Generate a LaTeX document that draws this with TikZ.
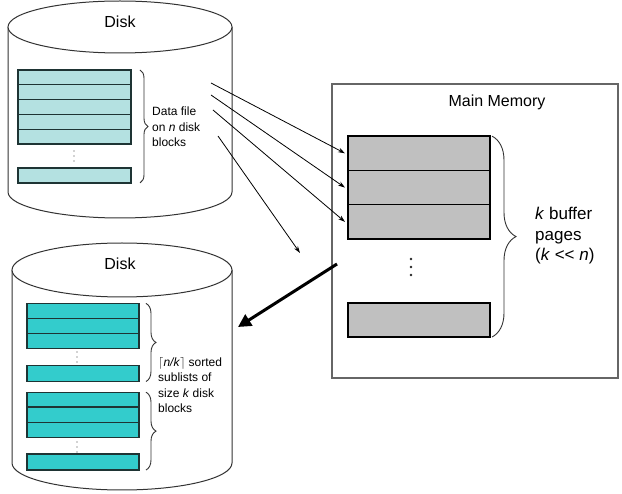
\documentclass[tikz,border=0pt]{standalone}
\usepackage{fontspec}
\setmainfont{Liberation Sans}
\usetikzlibrary{arrows.meta,decorations.pathreplacing}
\definecolor{pale}{HTML}{B4E1E1}
\definecolor{teal}{HTML}{33CCCC}
\definecolor{page}{HTML}{C0C0C0}
\definecolor{ink}{HTML}{1E3434}

\begin{document}
\begin{tikzpicture}[
  x=1pt,y=1pt,
  disk/.style={draw=black!80,line width=1pt,fill=white},
  block/.style={draw=ink,line width=1.3pt,minimum width=113pt,minimum height=14.8pt,
    inner sep=0pt,outer sep=0pt},
  pblock/.style={block,fill=pale},
  tblock/.style={block,fill=teal,minimum width=112pt},
  mblock/.style={block,draw=black,fill=page,minimum width=142pt,minimum height=34.3pt},
  brc/.style={draw=black!80,line width=.9pt,decorate,decoration={brace,amplitude=#1}},
  feed/.style={draw=black,line width=.8pt,-{Stealth[length=7pt,width=4.5pt]}},
  flush/.style={draw=black,line width=3pt,-{Triangle[length=13pt,width=13pt]}},
  title/.style={font=\fontsize{16}{19}\selectfont},
  note/.style={anchor=west,align=left,inner sep=0pt,font=\fontsize{12}{15.5}\selectfont},
  dot/.style={circle,fill=gray!70,inner sep=0pt,minimum size=1.6pt},
  bigdot/.style={dot,fill=black!85,minimum size=2.6pt}
]
\path[use as bounding box] (0,0) rectangle (622,-494);

% input disk
\path[disk] (8,-27) -- (8,-192) arc[start angle=180,end angle=360,x radius=112,y radius=26] -- (232,-27);
\draw[disk] (120,-27) ellipse[x radius=112,y radius=26];
\node[title] (disk1) at (120,-22) {Disk};
\foreach \i in {1,...,5}
  \node[pblock] (in\i) at (74.5,{-62.6-14.8*\i}) {};
\foreach \y in {151,156,161}
  \node[dot] at (74,-\y) {};
\node[pblock] (inlast) at (74.5,-175.5) {};
\draw[brc=8pt] ([xshift=9pt]in1.north east) -- ([xshift=9pt]inlast.south east);
\node[note] (innote) at (152,-127) {Data file\\on \textit{n} disk\\blocks};

% main memory
\node[draw=black!60,line width=1.2pt,minimum width=286pt,minimum height=294pt,inner sep=0pt]
  (mem) at (475,-231) {};
\node[title] (memtitle) at (497,-102) {Main Memory};
\foreach \i in {1,2,3}
  \node[mblock] (buf\i) at (419,{-119-34.3*\i}) {};
\foreach \y in {259,267,275}
  \node[bigdot] at (411,-\y) {};
\node[mblock,minimum height=34pt] (buflast) at (419,-320) {};
\draw[brc=24pt] ([xshift=2pt]buf1.north east) -- ([xshift=2pt]buflast.south east);
\node[note,font=\fontsize{17}{20.5}\selectfont] (bufnote) at (535,-236)
  {\textit{k} buffer\\pages\\(\textit{k} <{}< \textit{n})};

% reads into the buffer pages
\coordinate (r1) at (211,-83);
\coordinate (r2) at (211,-95);
\coordinate (r3) at (213,-110);
\coordinate (r4) at (218,-136);
\coordinate (r4end) at (300,-253);
\draw[feed] (r1) -- ([xshift=-3pt]buf1.west);
\draw[feed] (r2) -- ([xshift=-3pt]buf2.west);
\draw[feed] (r3) -- ([xshift=-3pt]buf3.west);
\draw[feed] (r4) -- (r4end);

% output disk
\path[disk] (12,-270) -- (12,-463) arc[start angle=180,end angle=360,x radius=110,y radius=27] -- (232,-270);
\draw[disk] (122,-270) ellipse[x radius=110,y radius=27];
\node[title] (disk2) at (120,-264) {Disk};
\foreach \i in {1,2,3}
  \node[tblock] (a\i) at (83,{-295.6-15.2*\i}) {};
\foreach \y in {352,357,362}
  \node[dot] at (77,-\y) {};
\node[tblock,minimum height=16pt] (alast) at (83,-373.5) {};
\foreach \i in {1,2,3}
  \node[tblock] (b\i) at (83,{-384.4-15.2*\i}) {};
\foreach \y in {442,447,452}
  \node[dot] at (77,-\y) {};
\node[tblock,minimum height=16pt] (blast) at (83,-462) {};
\draw[brc=10pt] ([xshift=7pt]a1.north east) -- ([xshift=7pt]alast.south east);
\draw[brc=10pt] ([xshift=7pt]b1.north east) -- ([xshift=7pt]blast.south east);
\node[note] (outnote) at (158,-385)
  {$\lceil$\textit{n/k}$\rceil$ sorted\\sublists of\\size \textit{k} disk\\blocks};

% flush to the output disk
\coordinate (w0) at (337,-264);
\coordinate (w1) at (238,-327);
\draw[flush] (w0) -- (w1);
\end{tikzpicture}
\end{document}
